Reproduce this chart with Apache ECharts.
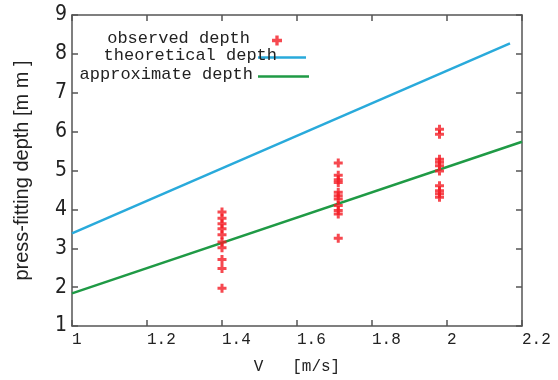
<!DOCTYPE html>
<html>
<head>
<meta charset="utf-8">
<script src="https://cdn.jsdelivr.net/npm/echarts@6/dist/echarts.min.js"></script>
<style>
  html, body { margin: 0; padding: 0; background: #fff; }
  #chart { width: 558px; height: 380px; }
</style>
</head>
<body>
<div id="chart"></div>
<script>
// 測定値（速度ごとの押し込み深さ）
const speeds = [1.4, 1.71, 1.98]
const observed14 = [3.93, 3.77, 3.63, 3.50, 3.35, 3.16, 3.01, 2.71, 2.48, 1.97]
const observed17 = [5.19, 4.88, 4.76, 4.69, 4.44, 4.35, 4.27, 4.10, 3.97, 3.88, 3.26]
const observed20 = [6.06, 5.93, 5.29, 5.21, 5.12, 4.99, 4.61, 4.48, 4.40, 4.31]

// 理論値・近似線の端点
const theoreticalX = [1, 2.168]
const theoreticalY = [3.38, 8.27]
const approximateX = [1, 2.2]
const approximateY = [1.84, 5.74]

const seriesNames = ['observed depth', 'theoretical depth', 'approximate depth']

const observedData = []
;[observed14, observed17, observed20].forEach((vals, i) => {
  vals.forEach(v => observedData.push([speeds[i], v]))
})
const theoreticalData = theoreticalX.map((x, i) => [x, theoreticalY[i]])
const approximateData = approximateX.map((x, i) => [x, approximateY[i]])

const plusIcon = 'path://M3,0H6V3H9V6H6V9H3V6H0V3H3Z'
const axisColor = '#555'
const textColor = '#222'
const monoFont = "'Liberation Mono', 'DejaVu Sans Mono', monospace"
const narrowFont = "'Liberation Sans Narrow', 'DejaVu Sans Condensed', sans-serif"

const chart = echarts.init(document.getElementById('chart'))

const baseAxis = {
  type: 'value',
  axisLine: { show: true, lineStyle: { color: axisColor, width: 1.5 } },
  axisTick: { show: true, inside: true, length: 6, lineStyle: { color: axisColor, width: 1.5 } },
  splitLine: { show: false }
}

// 凡例はテキストを右寄せ、記号を右側に置く
function makeLegend(name, right, top, icon, w, h, padRight) {
  return {
    orient: 'vertical',
    align: 'right',
    padding: 0,
    data: [{ name, icon }],
    right, top,
    itemWidth: w, itemHeight: h,
    formatter: '{a|{name}}',
    textStyle: {
      rich: { a: { fontFamily: monoFont, fontSize: 17, color: textColor, padding: [0, padRight, 4, 0] } }
    }
  }
}

chart.setOption({
  animation: false,
  grid: { left: 72, right: 36, top: 15, bottom: 53 },
  legend: [
    makeLegend(seriesNames[0], 276, 30, plusIcon, 10, 10, 17),
    makeLegend(seriesNames[1], 252, 47, 'rect', 48, 2.5, -24),
    makeLegend(seriesNames[2], 249, 66, 'rect', 51, 2.5, 0)
  ],
  xAxis: [
    {
      ...baseAxis,
      position: 'bottom',
      min: 1, max: 2.2, interval: 0.2,
      name: 'V   [m/s]',
      nameLocation: 'middle',
      nameGap: 33,
      nameTextStyle: { fontFamily: monoFont, fontSize: 16, color: textColor },
      axisLabel: {
        align: 'left',
        margin: 6,
        fontFamily: monoFont,
        fontSize: 16,
        color: textColor,
        formatter: v => String(+v.toFixed(1))
      }
    },
    {
      ...baseAxis,
      position: 'top',
      min: 1, max: 2.2, interval: 0.2,
      axisLabel: { show: false }
    }
  ],
  yAxis: [
    {
      ...baseAxis,
      position: 'left',
      min: 1, max: 9, interval: 1,
      name: 'press-fitting depth [m m ]',
      nameLocation: 'middle',
      nameGap: 40,
      nameTextStyle: {
        fontFamily: "'Liberation Sans', Arial, sans-serif",
        fontSize: 20,
        color: textColor
      },
      axisLabel: { margin: 5, fontFamily: narrowFont, fontSize: 21, color: textColor }
    },
    {
      ...baseAxis,
      position: 'right',
      min: 1, max: 9, interval: 1,
      axisLabel: { show: false }
    }
  ],
  series: [
    {
      name: seriesNames[0],
      type: 'scatter',
      symbol: plusIcon,
      symbolSize: 9,
      itemStyle: { color: '#f41c24' },
      data: observedData,
      z: 3
    },
    {
      name: seriesNames[1],
      type: 'line',
      symbol: 'none',
      lineStyle: { color: '#29aadb', width: 2.5 },
      itemStyle: { color: '#29aadb' },
      data: theoreticalData
    },
    {
      name: seriesNames[2],
      type: 'line',
      symbol: 'none',
      lineStyle: { color: '#1f9a45', width: 2.5 },
      itemStyle: { color: '#1f9a45' },
      data: approximateData
    }
  ]
})
</script>
</body>
</html>
